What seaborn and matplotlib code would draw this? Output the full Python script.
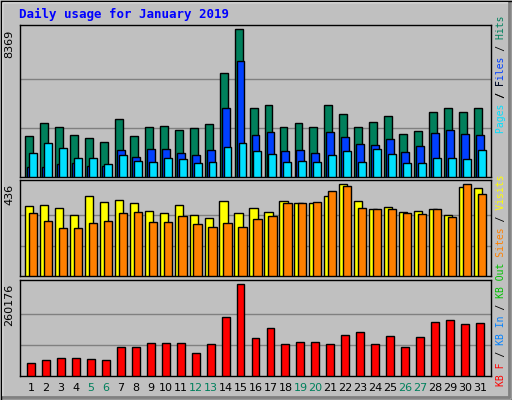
import numpy as np
import pandas as pd
import matplotlib
matplotlib.use("Agg")
import matplotlib.pyplot as plt
import seaborn as sns
from matplotlib.lines import Line2D

days = list(range(1, 32))
weekend_days = [5, 6, 12, 13, 19, 20, 26, 27]
hits = [2350, 3086, 2859, 2405, 2234, 2007, 3314, 2350, 2859, 2916, 2689, 2802, 3030, 5869, 8369, 3938,
        4052, 2859, 3086, 2859, 4052, 3598, 2859, 3143, 3484, 2461, 2632, 3711, 3882, 3711, 3882]
files = [587, 587, 757, 814, 644, 644, 1553, 1155, 1610, 1610, 1382, 1269, 1553, 3938, 6551, 2405,
         2575, 1496, 1553, 1382, 2575, 2291, 1893, 1837, 2177, 1439, 1780, 2518, 2689, 2461, 2405]
pages = [1382, 1950, 1666, 1098, 1098, 757, 1269, 928, 871, 1098, 1041, 814, 871, 1723, 1950, 1496,
         1325, 871, 928, 871, 1269, 1496, 871, 1610, 1325, 814, 814, 1098, 1098, 1041, 1553]
visits = [331, 335, 321, 288, 378, 349, 359, 345, 307, 297, 335, 288, 274, 354, 297, 321,
          302, 354, 345, 345, 378, 436, 354, 316, 326, 302, 307, 316, 288, 420, 416]
sites = [297, 260, 227, 227, 250, 260, 297, 302, 255, 255, 283, 246, 231, 250, 231, 269,
         283, 345, 345, 349, 401, 425, 321, 316, 316, 297, 293, 316, 279, 434, 387]
kbytes = [35000, 43500, 49200, 49200, 46400, 43500, 80400, 80400, 91800, 91800, 91800, 63400, 88900,
          165600, 260176, 106000, 134300, 88900, 94600, 94600, 88900, 114500, 123000, 88900, 111600,
          80400, 108800, 151400, 157000, 145700, 148500]
max_labels = ["8369", "436", "260176"]

BG = "#C0C0C0"
sns.set_theme(style="white", rc={"figure.facecolor": BG, "axes.facecolor": BG})
plt.rcParams['font.family'] = ['DejaVu Sans']

fig = plt.figure(figsize=(5.12, 4.0), dpi=100)
L, W = 20/512, 471/512
ax1 = fig.add_axes([L, 0.5575, W, 0.38])
ax2 = fig.add_axes([L, 0.309, W, 0.2415])
ax3 = fig.add_axes([L, 0.061, W, 0.24])

d = np.array(days, dtype=float)
bw = 0.53

def bars(ax, xs, vals, color, width=bw):
    df = pd.DataFrame({"x": xs, "y": vals})
    sns.barplot(data=df, x="x", y="y", native_scale=True, width=width, color=color,
                saturation=1, edgecolor="black", linewidth=1, ax=ax, zorder=3)

bars(ax1, d - 0.13, hits, "#00805C")
bars(ax1, d, files, "#0040FF")
bars(ax1, d + 0.13, pages, "#00E0FF")
bars(ax2, d - 0.13, visits, "#FFFF00", 0.55)
bars(ax2, d + 0.13, sites, "#FF8000", 0.55)
bars(ax3, d, kbytes, "#FF0000")

tops = [8613, 456, 272400]
maxv = [8369, 436, 260176]
for ax, top, mv, lab in zip([ax1, ax2, ax3], tops, maxv, max_labels):
    ax.set_xlim(0.27 - 0.0, 31.73)
    ax.set_ylim(0, top)
    for f in (1/3, 2/3):
        ax.axhline(mv*f, color="#808080", lw=1, zorder=1)
    ax.set_xticks([]); ax.set_yticks([])
    ax.set_xlabel(""); ax.set_ylabel("")
    for s in ax.spines.values():
        s.set_visible(True); s.set_color("black"); s.set_linewidth(1)
    ax.text(-0.012, mv/top, lab, transform=ax.transAxes, rotation=90, ha="right", va="top",
            fontsize=8, color="black")

# day labels
for dd in days:
    ax3.text(dd, -0.13, str(dd), transform=ax3.get_xaxis_transform(), ha="center", va="center",
             fontsize=8, color="#00805C" if dd in weekend_days else "black")

fig.text(19/512, 1 - 14/400, "Daily usage for January 2019", fontsize=9, fontweight="bold",
         family="DejaVu Sans Mono", color="#0000FF", ha="left", va="center")

def stacked_label(full, parts, y_px):
    for text, color in parts:
        i = full.index(text)
        s = "".join(c if i <= k < i + len(text) else " " for k, c in enumerate(full))
        fig.text(501/512, 1 - y_px/400, s, rotation=90, family="DejaVu Sans Mono", fontsize=7,
                 color=color, ha="center", va="bottom")

s1 = "Pages / Files / Hits"
stacked_label(s1, [("Pages", "#00E0FF"), ("Files", "#0040FF"), ("Hits", "#00805C"),
                   ("/ F", "black")], 133)
fig.text(0, 0, "")
s2 = "KB F / KB In / KB Out Sites / Visits"
stacked_label(s2, [("KB F", "#FF0000"), ("KB In", "#0080FF"), ("KB Out", "#00C000"),
                   ("Sites", "#FF8000"), ("Visits", "#FFFF00")], 386)
# slashes in black
for full, y in ((s1, 133), (s2, 386)):
    s = "".join(c if c == "/" else " " for c in full)
    fig.text(501/512, 1 - y/400, s, rotation=90, family="DejaVu Sans Mono", fontsize=7,
             color="black", ha="center", va="bottom")

# bevel frame
def fl(x0, y0, x1, y1, c, lw=1):
    fig.add_artist(Line2D([x0/512, x1/512], [1 - y0/400, 1 - y1/400], color=c, lw=lw,
                          transform=fig.transFigure))
fl(2, 2, 509, 2, "white"); fl(2, 2, 2, 397, "white")
fl(509, 2, 509, 397, "#808080", 2); fl(2, 397, 509, 397, "#808080", 2)
fl(0.5, 0.5, 511.5, 0.5, "black"); fl(0.5, 0.5, 0.5, 399.5, "black")
fl(511.5, 0.5, 511.5, 399.5, "black"); fl(0.5, 399.5, 511.5, 399.5, "black")

fig.savefig("out.png", dpi=100, facecolor=BG)
